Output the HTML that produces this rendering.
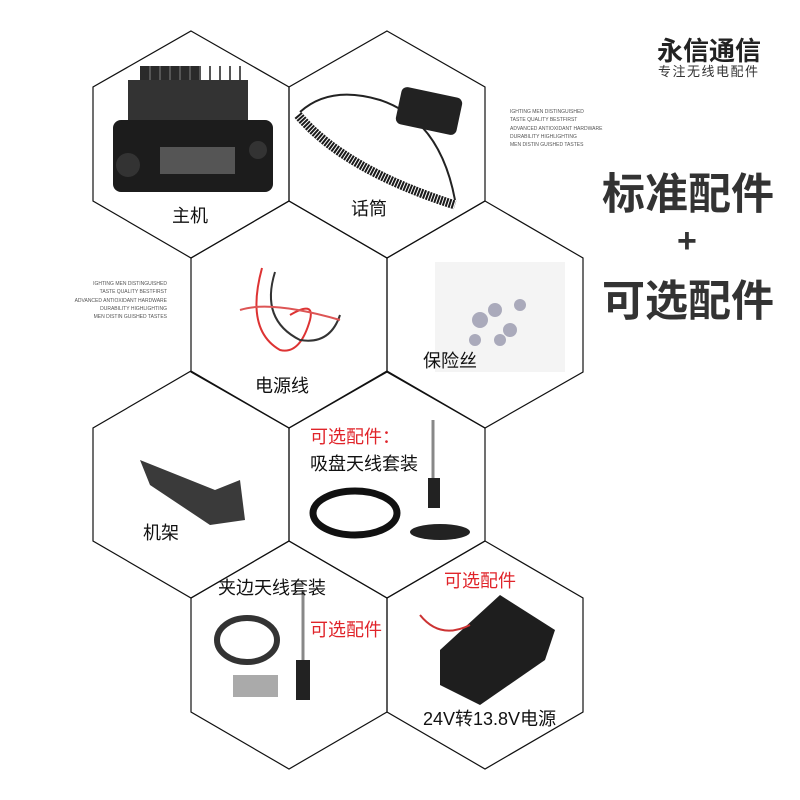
<!DOCTYPE html>
<html><head><meta charset="utf-8"><style>
html,body{margin:0;padding:0;background:#fff;}
.wrap{position:relative;width:800px;height:800px;overflow:hidden;background:#fff;}
svg{position:absolute;left:0;top:0;}
.t{font-family:"Liberation Sans","Noto Sans CJK SC",sans-serif;white-space:nowrap;}
</style></head><body><div class="wrap">
<svg width="800" height="800" viewBox="0 0 800 800">
<g fill="none" stroke="#111" stroke-width="1.2">
<polygon points="191,31 289,87 289,201 191,258 93,201 93,87"/>
<polygon points="387,31 485,87 485,201 387,258 289,201 289,87"/>
<polygon points="289,201 387,258 387,372 289,428 191,372 191,258"/>
<polygon points="485,201 583,258 583,372 485,428 387,372 387,258"/>
<polygon points="191,371 289,428 289,541 191,598 93,541 93,428"/>
<polygon points="387,371 485,428 485,541 387,598 289,541 289,428"/>
<polygon points="289,541 387,598 387,712 289,769 191,712 191,598"/>
<polygon points="485,541 583,598 583,712 485,769 387,712 387,598"/>
</g>
<g>
<rect x="140" y="66" width="60" height="40" fill="#2a2a2a"/>
<g stroke="#555" stroke-width="2"><line x1="150" y1="66" x2="150" y2="106"/><line x1="160" y1="66" x2="160" y2="106"/><line x1="170" y1="66" x2="170" y2="106"/><line x1="180" y1="66" x2="180" y2="106"/><line x1="190" y1="66" x2="190" y2="106"/><line x1="200" y1="66" x2="200" y2="106"/><line x1="210" y1="66" x2="210" y2="106"/><line x1="220" y1="66" x2="220" y2="106"/><line x1="230" y1="66" x2="230" y2="106"/><line x1="240" y1="66" x2="240" y2="106"/></g>
<rect x="128" y="80" width="120" height="40" fill="#333"/>
<rect x="113" y="120" width="160" height="72" rx="8" fill="#1c1c1c"/>
<rect x="160" y="147" width="75" height="27" fill="#555"/>
<circle cx="128" cy="165" r="12" fill="#333"/>
<circle cx="258" cy="150" r="9" fill="#333"/>
</g>
<path d="M300,112 Q330,85 380,100 Q440,120 455,200" fill="none" stroke="#222" stroke-width="2"/>
<path d="M298,115 Q345,170 455,205" fill="none" stroke="#1a1a1a" stroke-width="9" stroke-dasharray="2,1"/>
<rect x="398" y="92" width="62" height="38" rx="6" fill="#222" transform="rotate(12 429 111)"/>
<g fill="none" stroke-width="2">
<path d="M262,268 Q245,330 280,350 Q300,355 310,320 Q315,300 290,315" stroke="#d33"/>
<path d="M275,272 Q260,320 300,340 Q330,345 340,315" stroke="#333"/>
<path d="M240,310 Q270,300 340,320" stroke="#d55"/>
</g>
<rect x="435" y="262" width="130" height="110" fill="#f4f4f4"/>
<g fill="#aab">
<circle cx="480" cy="320" r="8"/><circle cx="495" cy="310" r="7"/><circle cx="510" cy="330" r="7"/><circle cx="475" cy="340" r="6"/><circle cx="520" cy="305" r="6"/><circle cx="500" cy="340" r="6"/>
</g>
<path d="M140,460 L215,490 L240,480 L245,520 L210,525 L150,485 Z" fill="#3a3a3a"/>
<line x1="433" y1="420" x2="433" y2="485" stroke="#888" stroke-width="3"/>
<rect x="428" y="478" width="12" height="30" fill="#222"/>
<ellipse cx="440" cy="532" rx="30" ry="8" fill="#222"/>
<ellipse cx="355" cy="513" rx="42" ry="22" fill="none" stroke="#111" stroke-width="7"/>
<line x1="303" y1="590" x2="303" y2="660" stroke="#888" stroke-width="3"/>
<rect x="296" y="660" width="14" height="40" fill="#222"/>
<ellipse cx="247" cy="640" rx="30" ry="22" fill="none" stroke="#333" stroke-width="6"/>
<rect x="233" y="675" width="45" height="22" fill="#aaa"/>
<path d="M440,650 L500,595 L555,630 L545,660 L480,705 L440,685 Z" fill="#1e1e1e"/>
<path d="M420,615 Q440,640 470,625" fill="none" stroke="#c33" stroke-width="2"/>
</svg>
<div class="t" style="position:absolute;left:657px;top:31px;font-size:26px;font-weight:bold;color:#222;">永信通信</div>
<div class="t" style="position:absolute;left:658px;top:61px;font-size:13px;color:#333;letter-spacing:1.5px;">专注无线电配件</div>
<div class="t" style="position:absolute;left:602px;top:160px;font-size:43px;font-weight:bold;color:#333;">标准配件</div>
<div class="t" style="position:absolute;left:677px;top:222px;font-size:34px;font-weight:bold;color:#333;">+</div>
<div class="t" style="position:absolute;left:602px;top:267px;font-size:43px;font-weight:bold;color:#333;">可选配件</div>
<div class="t" style="position:absolute;left:510px;top:108px;font-size:5px;line-height:8.3px;color:#555;">IGHTING MEN DISTINGUISHED<br>TASTE QUALITY BESTFIRST<br>ADVANCED ANTIOXIDANT HARDWARE<br>DURABILITY HIGHLIGHTING<br>MEN DISTIN GUISHED TASTES</div>
<div class="t" style="position:absolute;left:60px;top:280px;font-size:5px;line-height:8.3px;color:#555;text-align:right;width:107px;">IGHTING MEN DISTINGUISHED<br>TASTE QUALITY BESTFIRST<br>ADVANCED ANTIOXIDANT HARDWARE<br>DURABILITY HIGHLIGHTING<br>MEN DISTIN GUISHED TASTES</div>
<div class="t" style="position:absolute;left:172px;top:202px;font-size:18px;color:#111;">主机</div>
<div class="t" style="position:absolute;left:351px;top:195px;font-size:18px;color:#111;">话筒</div>
<div class="t" style="position:absolute;left:255px;top:372px;font-size:18px;color:#111;">电源线</div>
<div class="t" style="position:absolute;left:423px;top:347px;font-size:18px;color:#111;">保险丝</div>
<div class="t" style="position:absolute;left:143px;top:519px;font-size:18px;color:#111;">机架</div>
<div class="t" style="position:absolute;left:310px;top:423px;font-size:18px;color:#e0242a;">可选配件：</div>
<div class="t" style="position:absolute;left:310px;top:450px;font-size:18px;color:#111;">吸盘天线套装</div>
<div class="t" style="position:absolute;left:218px;top:574px;font-size:18px;color:#111;">夹边天线套装</div>
<div class="t" style="position:absolute;left:310px;top:616px;font-size:18px;color:#e0242a;">可选配件</div>
<div class="t" style="position:absolute;left:444px;top:567px;font-size:18px;color:#e0242a;">可选配件</div>
<div class="t" style="position:absolute;left:423px;top:705px;font-size:18px;color:#111;">24V转13.8V电源</div>
</div></body></html>
